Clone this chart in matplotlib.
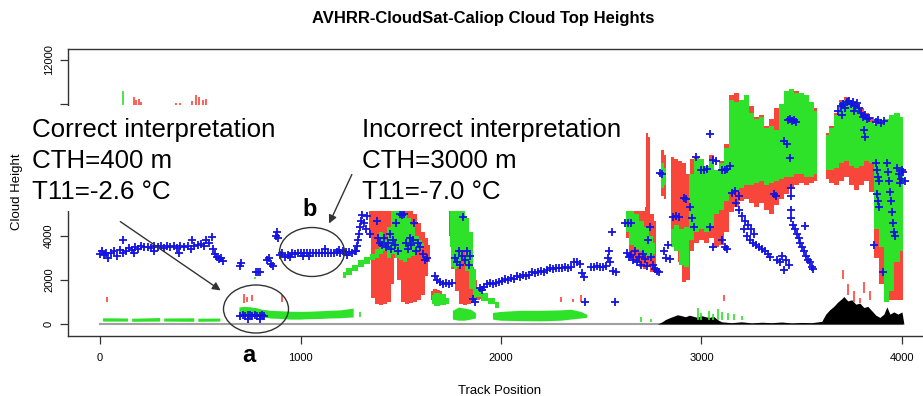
import numpy as np
import matplotlib
matplotlib.use("Agg")
import matplotlib.pyplot as plt
from matplotlib.patches import Ellipse, Rectangle

plt.rcParams['font.family'] = ['Liberation Sans', 'DejaVu Sans']

nan = np.nan

# --- CloudSat layer (red): track position, layer bottom, layer top (m)
red_x = [1340, 1360, 1380, 1400, 1420, 1440, 1460, 1475, 1490, 1510, 1530, 1550, 1570, 1590, 1610, 1630, 1645, nan,
         1652, 1670, 1690, 1705, nan,
         1740, 1760, 1780, 1800, 1820, 1840, 1860, 1875, 1890, 1905, nan,
         2625, 2650, 2675, 2700, 2720, 2728, 2738, 2750, 2775, nan,
         2800, 2825, nan,
         2850, 2875, 2895, 2915, 2935, 2955, 2975, 3000, 3025, 3050, 3075, 3100, 3125,
         3150, 3175, 3200, 3225, 3250, 3275, 3300, 3325, 3350, 3375, 3400, 3425, 3450, 3475, 3500, 3525, 3550, 3575, nan,
         3620, 3650, 3675, 3700, 3725, 3750, 3775, 3800, 3825, 3850, 3875, 3900, 3925, 3950, 3975, 4005]
red_lo = [3900, 1200, 900, 850, 900, 1000, 1800, 3000, 2000, 1000, 900, 950, 1000, 1100, 1300, 2200, 2800, nan,
          1100, 1050, 1100, 1200, nan,
          4000, 2500, 1500, 900, 850, 900, 950, 1200, 1100, 1150, nan,
          3900, 3000, 2800, 2600, 2500, 2600, 2600, 2350, 2300, nan,
          5800, 5700, nan,
          3500, 3400, 2800, 1900, 2000, 3300, 3700, 3800, 3700, 3900, 3500, 3600, 4200,
          5100, 5300, 5600, 5700, 5500, 5300, 5500, 5200, 5000, 5400, 5700, 5900, 6200, 6300, 6400, 6300, 6400, 6500, nan,
          6600, 6400, 6300, 6500, 6700, 6300, 6100, 6300, 6500, 6000, 3000, 1800, 1300, 1100, 1100, 1100]
red_hi = [5300, 5300, 5300, 5300, 5300, 5300, 5300, 5300, 5300, 5300, 5300, 5300, 5000, 4600, 4200, 3900, 3600, nan,
          1500, 1600, 1550, 1500, nan,
          5300, 5300, 4800, 3500, 3300, 3000, 2600, 2000, 1450, 1350, nan,
          5300, 5300, 5300, 5300, 5300, 8700, 8500, 5000, 4700, nan,
          7900, 7700, nan,
          7600, 7500, 7400, 7300, 6800, 7500, 7600, 7000, 7200, 7700, 7000, 7400, 8200,
          10400, 10500, 10200, 10400, 9900, 9400, 9500, 9000, 9300, 9800, 10000, 10600, 10700, 10600, 10500, 10400, 10100, 9800, nan,
          8700, 9000, 9600, 10200, 10300, 10100, 10000, 9800, 9600, 9400, 8900, 8700, 9300, 9500, 9600, 9200]

# --- Caliop layer (green)
green_x = [1210, 1240, 1270, 1300, 1330, 1360, 1380, 1400, 1420, 1440, 1460, 1480, 1500, 1520, 1540, 1560, 1580, 1600, 1615, nan,
           1655, 1680, 1710, 1740, nan,
           1745, 1760, 1775, 1790, 1810, 1830, 1850, 1870, 1885, 1920, 1950, 1990, nan,
           2625, 2650, 2675, 2700, 2725, 2750, 2770, nan,
           2800, 2825, nan,
           2850, 2875, 2900, 2925, 2950, 2975, 3000, 3025, 3050, 3075, 3100, 3125,
           3150, 3175, 3200, 3225, 3250, 3275, 3300, 3325, 3350, 3375, 3400, 3425, 3450, 3475, 3500, 3525, 3550, 3575, nan,
           3620, 3650, 3675, 3700, 3725, 3750, 3775, 3800, 3825, 3850, 3875, 3900, 3925, 3950, 3975, 4005]
green_lo = [2100, 2250, 2400, 2600, 2750, 2900, 3000, 3200, 3300, 3000, 3200, 3000, 2900, 2800, 3000, 3100, 3300, 3400, 3500, nan,
            900, 800, 850, 900, nan,
            3500, 2600, 2500, 2600, 3300, 2400, 1600, 1000, 1250, 1050, 900, 750, nan,
            4200, 3600, 3400, 3300, 3100, 3000, 3200, nan,
            6200, 6300, nan,
            3500, 3300, 2700, 2600, 3800, 4200, 4300, 4200, 4400, 5000, 5200, 5600,
            6000, 6100, 6200, 6300, 6300, 6400, 6500, 6300, 6400, 6500, 6600, 6700, 6700, 6800, 6800, 6700, 6700, 6800, nan,
            7000, 7000, 7100, 7300, 7400, 7200, 7100, 7200, 7400, 7300, 4300, 3500, 1000, 1500, 2800, 3300]
green_hi = [2350, 2550, 2700, 2900, 3050, 3200, 3400, 4200, 3800, 4400, 5300, 5300, 5300, 5000, 4800, 4500, 4000, 3800, 3700, nan,
            1300, 1400, 1350, 1200, nan,
            5300, 5300, 5300, 5300, 5300, 4800, 4200, 2500, 1600, 1400, 1200, 1000, nan,
            5300, 5300, 5000, 4700, 4400, 4000, 3700, nan,
            7300, 7100, nan,
            4300, 4500, 4300, 4400, 6800, 7500, 7500, 7200, 7400, 7000, 7300, 8000,
            10200, 10100, 10200, 10400, 9600, 9300, 9400, 8900, 9000, 8800, 10000, 10600, 10700, 10500, 10500, 10400, 10100, 9700, nan,
            8600, 8900, 9500, 10100, 10200, 10000, 9900, 9600, 9400, 9200, 9100, 9200, 9300, 9500, 9600, 9400]

# low-level Caliop cloud
low_x = [15, 140, nan, 160, 300, nan, 320, 470, nan, 490, 600, nan,
         695, 720, 750, 780, 810, 850, 900, 950, 1000, 1050, 1100, 1150, 1200, 1265, nan,
         1760, 1790, 1820, 1850, 1875, nan,
         1960, 2000, 2100, 2200, 2300, 2350, 2400, 2430]
low_lo = [110, 110, nan, 100, 110, nan, 110, 100, nan, 100, 110, nan,
          400, 350, 380, 350, 300, 250, 230, 200, 200, 220, 230, 250, 260, 300, nan,
          200, 150, 150, 200, 250, nan,
          200, 150, 130, 120, 150, 200, 250, 280]
low_hi = [260, 250, nan, 240, 270, nan, 250, 260, nan, 240, 250, nan,
          750, 780, 760, 720, 650, 600, 580, 560, 550, 560, 580, 600, 620, 700, nan,
          600, 750, 700, 650, 500, nan,
          500, 550, 600, 600, 620, 650, 550, 420]

# isolated thin returns
red_tick_x = [35, 170, 180, 195, 205, 380, 400, 460, 480, 495, 515, 530, 720, 735, 760, 910,
              2300, 2360, 2400, 3110, 3705, 3730, 3760, 3790, 3810, 3840]
red_tick_lo = [1000, 9950, 9950, 9950, 9950, 9950, 9950, 9950, 9950, 9950, 9950, 9950, 950, 1000, 1050, 1000,
               1000, 1000, 1000, 1050, 2050, 1300, 1000, 950, 1400, 1100]
red_tick_hi = [1250, 10300, 10200, 10250, 10100, 10050, 10050, 10150, 10400, 10300, 10200, 10250, 1350, 1250, 1300, 1300,
               1250, 1150, 1300, 1300, 2450, 1800, 1500, 1200, 1900, 1500]
green_tick_x = [115, 773, 1295, 2700, 2750, 2985, 3000, 3040, 3060, 3080, 3100, 3130, 3160, 3200]
green_tick_lo = [9950, 2050, 300, 100, 100, 200, 200, 200, 200, 200, 200, 200, 200, 200]
green_tick_hi = [10600, 2150, 550, 300, 250, 750, 500, 600, 450, 700, 550, 500, 450, 350]

# surface elevation (black)
surf_x = [2780, 2800, 2820, 2840, 2860, 2880, 2900, 2920, 2940, 2960, 2980, 3000, 3020, 3040, 3060, 3080, 3100,
          3150, 3200, 3250, 3300, 3350, 3400, 3450, 3500, 3550, 3600, 3620, 3640, 3660, 3680, 3700, 3710,
          3730, 3750, 3770, 3790, 3810, 3830, 3850, 3870, 3890, 3910, 3925, 3940, 3960, 3980, 4000, 4010]
surf_h = [0, 80, 200, 280, 350, 420, 380, 330, 400, 350, 300, 380, 330, 300, 350, 200, 100,
          60, 100, 50, 80, 60, 90, 50, 70, 60, 120, 450, 650, 800, 1000, 1150, 1250,
          1050, 1100, 900, 950, 750, 800, 600, 400, 300, 450, 780, 450, 550, 450, 550, 0]

# --- AVHRR cloud top heights (blue +)
blue_x = [0, 10, 20, 30, 40, 55, 70, 85, 100, 115, 115, 130, 145, 160, 170, 175, 190, 205, 220, 240, 255, 270, 270,
          290, 305, 320, 335, 350, 370, 385, 395, 400, 420, 440, 455, 460, 470, 490, 505, 520, 530, 545, 560, 565,
          575, 585, 595, 605, 615,
          700, 705, 780, 790, 800, 835, 845, 855, 865, 880, 885, 888, 900, 910, 920, 935, 945,
          700, 712, 724, 736, 748, 760, 772, 784, 796, 808, 820, 740, 800,
          955, 970, 985, 1000, 1015, 1030, 1045, 1060, 1075, 1090, 1105, 1120, 1135, 1150, 1165, 1180, 1195, 1210,
          1225, 1240, 1255, 1270, 1010, 1040, 1120, 1190, 1230,
          1275, 1282, 1288, 1292, 1298, 1302, 1308, 1318, 1325, 1332, 1345, 1380, 1385, 1395, 1405, 1415, 1425,
          1435, 1445, 1450, 1462, 1470, 1478, 1488, 1495, 1505, 1515, 1525, 1535, 1545, 1552, 1562, 1568, 1578,
          1588, 1598, 1610, 1622, 1632, 1670, 1680, 1695, 1710, 1725, 1740, 1755, 1770, 1780, 1788, 1796, 1805,
          1810, 1820, 1830, 1838, 1846, 1860, 1870,
          1895, 1905, 1915, 1930, 1945, 1960, 1975, 1990, 2005, 2020, 2035, 2050, 2065, 2080, 2095, 2110, 2125,
          2140, 2155, 2170, 2185, 2200, 2215, 2230, 2245, 2260, 2275, 2290, 2305, 2320, 2335, 2350, 2365, 2380,
          2395, 2405, 2412, 2420, 2450, 2465, 2480, 2495, 2510, 2525, 2535, 2540, 2545, 2555, 2560, 2572, 2570,
          2620, 2635, 2650, 2630, 2640, 2650, 2660, 2670, 2680, 2690, 2700, 2710, 2720, 2730, 2742, 2735, 2750,
          2760, 2770, 2780, 2790, 2795, 2805, 2815, 2825, 2835, 2845, 2860, 2875, 2890, 2915, 2925, 2945, 2955,
          2965, 2975, 3000, 3015, 3030, 3045, 3045, 3060, 3075, 3060, 3100, 3115, 3125, 3140, 3100, 3115, 3125,
          3150, 3165, 3185, 3170, 3185, 3200, 3215, 3230, 3245, 3260, 3210, 3225, 3240, 3255, 3270, 3285, 3300,
          3315, 3330, 3340,
          3360, 3370, 3375, 3390, 3400, 3410, 3420, 3435, 3410, 3425, 3440, 3430, 3440, 3450, 3460, 3470, 3445,
          3445, 3445, 3445, 3455, 3465, 3475, 3485, 3490, 3500, 3510, 3515, 3520, 3530, 3540, 3550, 3555,
          3680, 3695, 3705, 3715, 3725, 3735, 3745, 3755, 3765, 3775, 3785, 3795, 3805, 3815, 3825, 3835, 3700,
          3760, 3810, 3815, 3870, 3880, 3895, 3910, 3870, 3875, 3880, 3885, 3875, 3880, 3885, 3860, 3905, 3925,
          3930, 3935, 3940, 3945, 3950, 3955, 3960, 3965, 3975, 3985, 3995, 4005, 4015, 3990, 4000]
blue_y = [3200, 3300, 3150, 3250, 3000, 3250, 3300, 3100, 3350, 3250, 3800, 3300, 3450, 3350, 3250, 3500, 3400, 3550,
          3500, 3500, 3450, 3550, 3300, 3500, 3550, 3450, 3550, 3500, 3550, 3450, 3230, 3550, 3500, 3550, 3400,
          3820, 3550, 3600, 3650, 3550, 3800, 3700, 3950, 3400, 3200, 3050, 2950, 3000, 2850,
          2650, 2780, 2380, 2360, 2380, 2900, 3000, 2750, 2620, 4000, 4180, 3900, 3150, 3250, 3050, 3150, 3050,
          380, 400, 380, 400, 390, 380, 400, 380, 370, 400, 360, 250, 230,
          3250, 3200, 3230, 3250, 3220, 3240, 3230, 3250, 3220, 3230, 3250, 3230, 3240, 3250, 3220, 3280, 3250,
          3300, 3280, 3260, 3250, 3300, 3100, 3080, 3400, 3350, 3150,
          3300, 3550, 3800, 4100, 4400, 4700, 4950, 4600, 4300, 4900, 4100, 4700, 3900, 3700, 3600, 3900, 3500,
          3700, 4100, 3400, 3800, 3600, 4600, 3300, 5000, 4950, 5000, 3700, 3400, 3900, 3600, 3800, 4600, 3300,
          3700, 3500, 3200, 2900, 3000, 2200, 2000, 1900, 1800, 1850, 1800, 1850, 3000, 2800, 3300, 2700, 3100,
          4850, 2900, 3300, 2700, 3100, 1150, 1000,
          1650, 1550, 1700, 1800, 1850, 1800, 1850, 1900, 1950, 2050, 2000, 2100, 2050, 2200, 2150, 2250, 2200,
          2250, 2350, 2300, 2350, 2400, 2350, 2450, 2550, 2500, 2550, 2550, 2550, 2600, 2550, 2600, 2800, 2800,
          2750, 2300, 2150, 1000, 2600, 2600, 2620, 2600, 2600, 2620, 3000, 3300, 2800, 4180, 2400, 2350, 980,
          4600, 4600, 4580, 3250, 3050, 3150, 2900, 3300, 2800, 3050, 2700, 3200, 2950, 2650, 4400, 3800, 3050,
          2700, 2500, 2400, 2350, 6850, 6800, 3300, 3000, 3600, 2950, 4850, 4900, 4850, 5750, 5700, 5300, 4800,
          4400, 7590, 7000, 7000, 7050, 8640, 4400, 7450, 7400, 3500, 7000, 7000, 7050, 7180, 3800, 3500, 3400,
          5950, 6050, 5800, 5500, 5200, 4900, 4700, 4500, 4300, 4100, 4300, 4000, 3800, 3700, 3600, 3500, 3400,
          3300, 3200, 3050,
          5900, 5800, 2900, 2800, 3100, 2450, 2900, 2700, 8300, 8200, 7550, 9270, 9300, 9250, 9270, 9200, 6200,
          5800, 5200, 4800, 4500, 4300, 4100, 3900, 3700, 3500, 3300, 4450, 3100, 2900, 2800, 2600, 2500,
          9700, 9900, 10000, 9800, 10100, 10150, 10000, 10100, 9900, 10050, 9800, 9600, 9400, 9500, 9300, 9350, 9500,
          9700, 8800, 8500, 9200, 9270, 9150, 9250, 7300, 7000, 6700, 6500, 5900, 5600, 5300, 3600, 2350, 7300,
          6900, 6500, 6000, 5600, 5100, 4600, 4200, 4000, 7100, 6800, 6600, 6900, 6500, 6400, 7000]

xticks = [0, 1000, 2000, 3000, 4000]
yticks = [0, 2000, 4000, 6000, 8000, 10000, 12000]
# labels under the pasted text box do not show
ytick_labels = ['0', '2000', '4000', '', '', '', '12000']

red = '#f9463a'
green = '#2ee22a'
blue = '#1414e0'

fig = plt.figure(figsize=(9.23, 3.96), dpi=100)
ax = fig.add_axes([68/923, 60/396, 866/923, 287/396])

ax.plot([0, 4000], [0, 0], color='#a0a0a0', lw=1.5, zorder=1)
ax.fill_between(surf_x, 0, surf_h, color='black', lw=0, zorder=2)
ax.fill_between(low_x, low_lo, low_hi, color=green, lw=0, zorder=2)
ax.fill_between(red_x, red_lo, red_hi, color=red, lw=0, zorder=3, step='mid')
ax.fill_between(green_x, green_lo, green_hi, color=green, lw=0, zorder=4, step='mid')
ax.vlines(red_tick_x, red_tick_lo, red_tick_hi, color=red, lw=1.2, zorder=4)
ax.vlines(green_tick_x, green_tick_lo, green_tick_hi, color=green, lw=1.2, zorder=4)
ax.plot(blue_x, blue_y, '+', color=blue, ms=5.5, mew=1.3, zorder=6)

ax.set_xlim(-160, 4160)
ax.set_ylim(-545, 12500)
ax.set_xticks(xticks)
ax.set_xticklabels([str(v) for v in xticks], fontsize=8)
ax.set_yticks(yticks)
ax.set_yticklabels(ytick_labels, fontsize=8, rotation=90, va='center')
ax.tick_params(direction='out', length=6, width=0.9, color='#333333', pad=6)
ax.tick_params(axis='y', pad=4)
for s in ax.spines.values():
    s.set_color('#333333')
    s.set_linewidth(1)

fig.text(483/923, 1 - 18/396, 'AVHRR-CloudSat-Caliop Cloud Top Heights', ha='center', va='center',
         fontsize=12, fontweight='bold')
fig.text(500/923, 1 - 391/396, 'Track Position', ha='center', va='center', fontsize=9.5)
fig.text(17/923, 1 - 192/396, 'Cloud Height', ha='center', va='center', rotation=90, fontsize=9.5)

# annotation layer in pixel coordinates
ov = fig.add_axes([0, 0, 1, 1], zorder=5)
ov.set_xlim(0, 923)
ov.set_ylim(396, 0)
ov.axis('off')
ov.patch.set_alpha(0)
ov.add_patch(Rectangle((28, 106), 617, 105, facecolor='white', edgecolor='none'))
for i, s in enumerate(['Correct interpretation', 'CTH=400 m', 'T11=-2.6 °C']):
    ov.text(32, 137 + 31*i, s, fontsize=18.6, va='baseline')
for i, s in enumerate(['Incorrect interpretation', 'CTH=3000 m', 'T11=-7.0 °C']):
    ov.text(362, 137 + 31*i, s, fontsize=18.6, va='baseline')
ov.add_patch(Ellipse((256, 309), 65, 48, fill=False, ec='#333333', lw=1))
ov.add_patch(Ellipse((312, 252), 65, 49, fill=False, ec='#333333', lw=1))
ov.annotate('', xy=(223, 292), xytext=(118, 220),
            arrowprops=dict(arrowstyle='-|>', color='#333333', lw=1, mutation_scale=12))
ov.annotate('', xy=(328, 226), xytext=(353, 172),
            arrowprops=dict(arrowstyle='-|>', color='#333333', lw=1, mutation_scale=12))
ov.text(249, 356, 'a', fontsize=17, fontweight='bold', ha='center', va='center')
ov.text(310, 209, 'b', fontsize=17, fontweight='bold', ha='center', va='center')

fig.savefig('out.png', dpi=100)
